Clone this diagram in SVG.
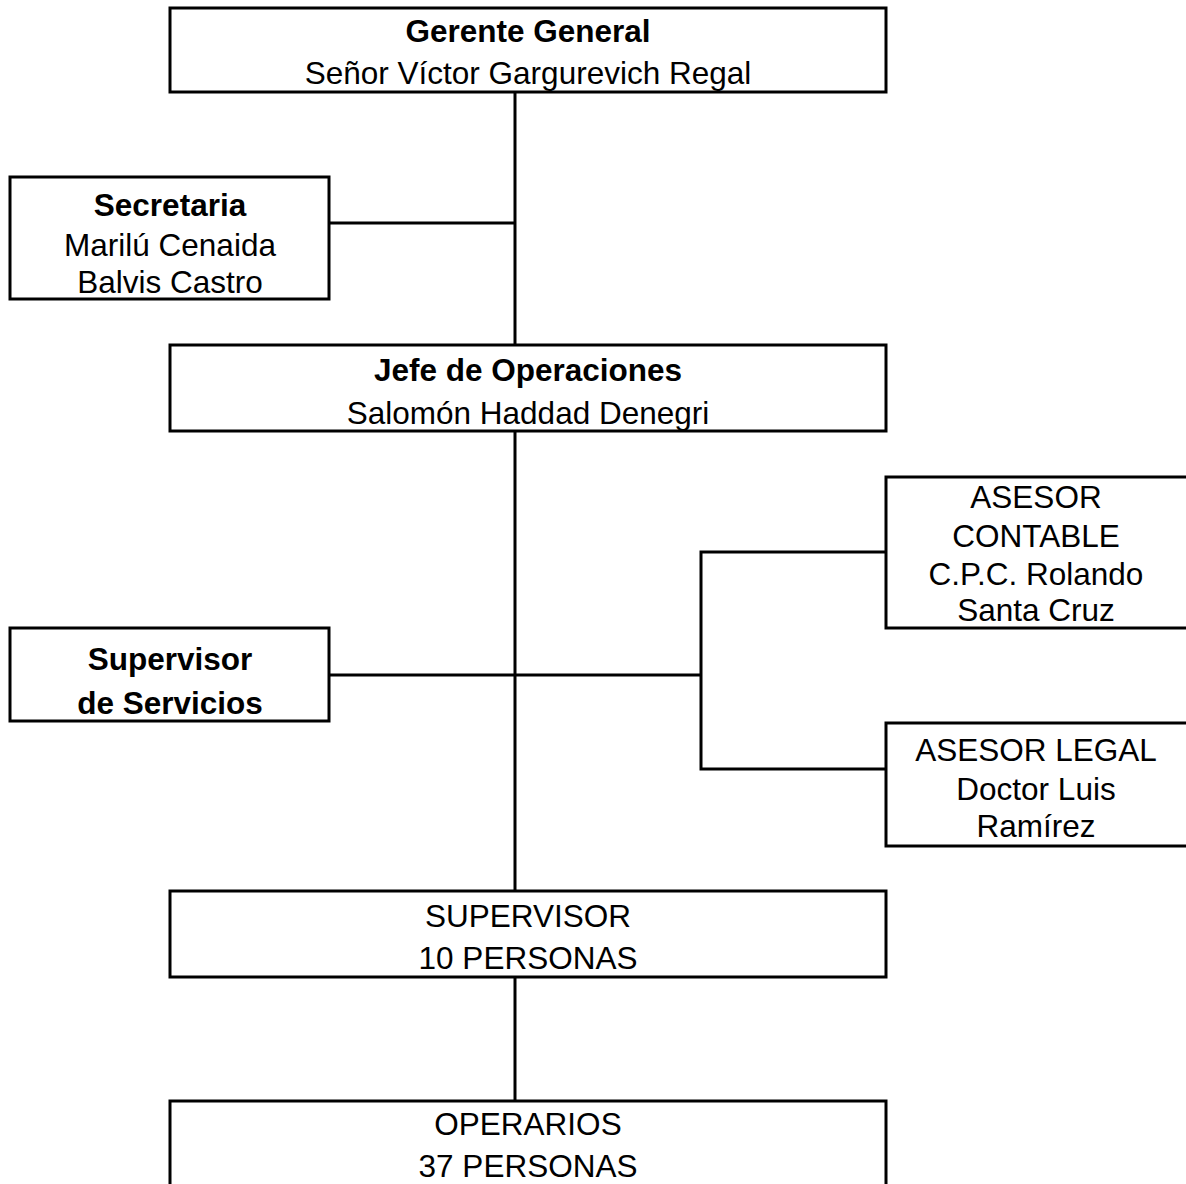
<svg xmlns="http://www.w3.org/2000/svg" width="1186" height="1184" viewBox="0 0 1186 1184">
  <style>
    .box { fill: #ffffff; stroke: #000000; stroke-width: 3; }
    .line { fill: none; stroke: #000000; stroke-width: 3; }
    text { font-family: "Liberation Sans", Arial, sans-serif; font-size: 31.5px; fill: #000000; text-anchor: middle; }
    .b { font-weight: bold; }
  </style>
  <rect width="1186" height="1184" fill="#ffffff"/>

  <!-- connectors -->
  <g id="connectors">
    <line class="line" x1="515" y1="92" x2="515" y2="345"/>
    <line class="line" x1="329" y1="223" x2="515" y2="223"/>
    <line class="line" x1="515" y1="431" x2="515" y2="891"/>
    <line class="line" x1="329" y1="675" x2="701" y2="675"/>
    <polyline class="line" points="886,552 701,552 701,769 886,769"/>
    <line class="line" x1="515" y1="977" x2="515" y2="1101"/>
  </g>

  <g id="gerente">
    <rect class="box" x="170" y="8" width="716" height="84"/>
    <text x="528" y="42" class="b">Gerente General</text>
    <text x="528" y="84">Señor Víctor Gargurevich Regal</text>
  </g>

  <g id="secretaria">
    <rect class="box" x="10" y="177" width="319" height="122"/>
    <text x="170" y="216" class="b">Secretaria</text>
    <text x="170" y="256">Marilú Cenaida</text>
    <text x="170" y="293">Balvis Castro</text>
  </g>

  <g id="jefe">
    <rect class="box" x="170" y="345" width="716" height="86"/>
    <text x="528" y="381" class="b">Jefe de Operaciones</text>
    <text x="528" y="424">Salomón Haddad Denegri</text>
  </g>

  <g id="asesor-contable">
    <rect class="box" x="886" y="477" width="302" height="151"/>
    <text x="1036" y="508">ASESOR</text>
    <text x="1036" y="547">CONTABLE</text>
    <text x="1036" y="585">C.P.C. Rolando</text>
    <text x="1036" y="621">Santa Cruz</text>
  </g>

  <g id="supervisor-servicios">
    <rect class="box" x="10" y="628" width="319" height="93"/>
    <text x="170" y="670" class="b">Supervisor</text>
    <text x="170" y="714" class="b">de Servicios</text>
  </g>

  <g id="asesor-legal">
    <rect class="box" x="886" y="723" width="302" height="123"/>
    <text x="1036" y="761">ASESOR LEGAL</text>
    <text x="1036" y="800">Doctor Luis</text>
    <text x="1036" y="837">Ramírez</text>
  </g>

  <g id="supervisor">
    <rect class="box" x="170" y="891" width="716" height="86"/>
    <text x="528" y="927">SUPERVISOR</text>
    <text x="528" y="969">10 PERSONAS</text>
  </g>

  <g id="operarios">
    <rect class="box" x="170" y="1101" width="716" height="95"/>
    <text x="528" y="1135">OPERARIOS</text>
    <text x="528" y="1177">37 PERSONAS</text>
  </g>
</svg>
